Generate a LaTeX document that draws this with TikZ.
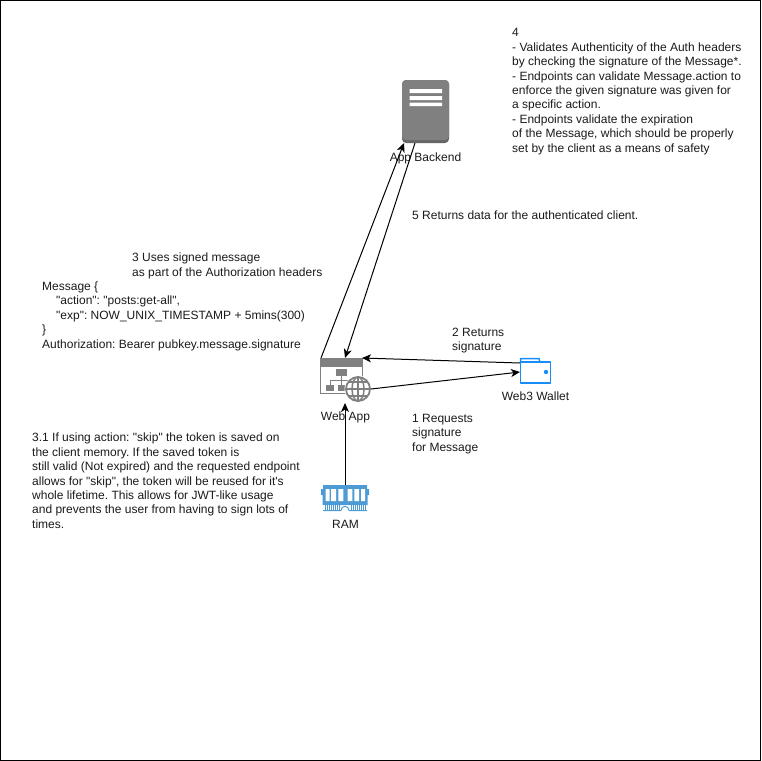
\documentclass[tikz,border=0pt]{standalone}
\usepackage{fontspec}
\setmainfont[Ligatures=TeXOff]{Liberation Sans}
\usetikzlibrary{arrows.meta}
\definecolor{gicon}{RGB}{128,128,128}
\definecolor{gdark}{RGB}{102,102,102}
\definecolor{wblue}{RGB}{24,141,250}
\definecolor{rblue}{RGB}{77,155,213}
\definecolor{ink}{RGB}{26,26,26}
\tikzset{
 lab/.style={font=\fontsize{12}{14.4}\selectfont\frenchspacing,text=ink,anchor=north west,align=left,inner sep=0pt},
 caption/.style={font=\fontsize{12}{14.4}\selectfont,text=ink,anchor=center,inner sep=0pt},
 conn/.style={draw=black,line width=1pt,-{Stealth[length=9pt,width=8pt,inset=2.5pt]}},
}
\begin{document}
\begin{tikzpicture}[x=1pt,y=-1pt]
\useasboundingbox (0,0) rectangle (761,761);
\draw[line width=1pt,draw=black] (0.5,0.5) rectangle (760.5,760.5);
% App Backend icon
\fill[gdark,rounded corners=4pt] (402,80) rectangle (449,143);
\fill[gicon,rounded corners=4pt] (402,80) rectangle (449,140);
\fill[white] (409.5,89) rectangle (442,93) (409.5,96) rectangle (442,100) (409.5,102.5) rectangle (442,106);
\coordinate (beA) at (404,143);
\coordinate (beB) at (415,143);
\node[caption] (backendlab) at (425.5,158.5) {App Backend};
% Web App icon
\draw[gicon,line width=1pt,fill=white] (320.5,358.5) rectangle (362,393);
\fill[gicon] (320,358) rectangle (362.5,367);
\fill[gicon] (336,369) rectangle (347,376);
\fill[gicon] (326,385) rectangle (334,390.5);
\fill[gicon] (338,385) rectangle (346,390.5);
\draw[gicon,line width=1pt] (341,376) -- (341,385) (330,385) -- (330,380.5) -- (350,380.5);
\fill[white] (358,389) circle (13.5);
\draw[gicon,line width=1.8pt] (358,389) circle (12) (346,389) -- (370,389) (348.5,382) -- (367.5,382) (348.5,396) -- (367.5,396) (358,377) -- (358,401);
\draw[gicon,line width=1.5pt] (358,389) ellipse (6 and 12);
\coordinate (webA) at (321,358);
\coordinate (webB) at (345,358);
\coordinate (webC) at (362,358);
\coordinate (webD) at (371,389);
\coordinate (webE) at (345,403);
\node[caption] (weblab) at (345.5,417.5) {Web App};
% Wallet
\draw[wblue,line width=1.5pt,line join=round,fill=white] (520.5,362) rectangle (550.5,383);
\draw[wblue,line width=1.5pt,line join=round] (520.5,362) -- (520.5,358.5) -- (539,358.5) -- (540,362);
\fill[wblue] (546,372) circle (2.2);
\coordinate (walA) at (520,363);
\coordinate (walB) at (520,372);
\node[caption] (wallab) at (535.5,396) {Web3 Wallet};
% RAM
\fill[rblue] (323,485) -- (367,485) -- (367,489) -- (369,489) -- (369,495) -- (367.5,495) -- (367.5,505) -- (322.5,505) -- (322.5,495) -- (321,495) -- (321,489) -- (323,489) -- cycle;
\fill[white] (325.7,489) rectangle (329.5,501) (331,489) rectangle (336,501) (338.3,489) rectangle (343.3,501) (347.7,489) rectangle (352.3,501) (354.3,489) rectangle (359,501) (361,489) rectangle (365,501);
\foreach \xx in {325,327,...,339,351,353,...,365}{\fill[rblue] (\xx,505) rectangle +(1,5.5);}
\draw[rblue,line width=1pt] (341,510.5) .. controls (341,505) and (349,505) .. (349,510.5) (323,510.5) -- (341,510.5) (349,510.5) -- (367,510.5);
\coordinate (ramA) at (345,485);
\node[caption] (ramlab) at (345.5,524) {RAM};
% connectors
\draw[conn] (webA) -- (beA);
\draw[conn] (beB) -- (webB);
\draw[conn] (walA) -- (webC);
\draw[conn] (webD) -- (walB);
\draw[conn] (ramA) -- (webE);
% text
\node[lab] (t4) at (512,28.5) {4\\- Validates Authenticity of the Auth headers\\by checking the signature of the Message*.\\- Endpoints can validate Message.action to\\enforce the given signature was given for\\a specific action.\\- Endpoints validate the expiration\\of the Message, which should be properly\\set by the client as a means of safety};
\node[lab] (t5) at (412,210.5) {5 Returns data for the authenticated client.};
\node[lab] (t3) at (132,253) {3 Uses signed message\\as part of the Authorization headers};
\node[lab] (tm) at (42,281.5) {Message \{\\\hspace*{14pt}"action": "posts:get-all",\\\hspace*{14pt}"exp": NOW\_UNIX\_TIMESTAMP + 5mins(300)\\\}\\Authorization: Bearer pubkey.message.signature};
\node[lab] (t2) at (452,328) {2 Returns\\signature};
\node[lab] (t1) at (412,414) {1 Requests\\signature\\for Message};
\node[lab] (t31) at (32,433) {3.1 If using action: "skip" the token is saved on\\the client memory. If the saved token is\\still valid (Not expired) and the requested endpoint\\allows for "skip", the token will be reused for it's\\whole lifetime. This allows for JWT-like usage\\and prevents the user from having to sign lots of\\times.};
\end{tikzpicture}
\end{document}
